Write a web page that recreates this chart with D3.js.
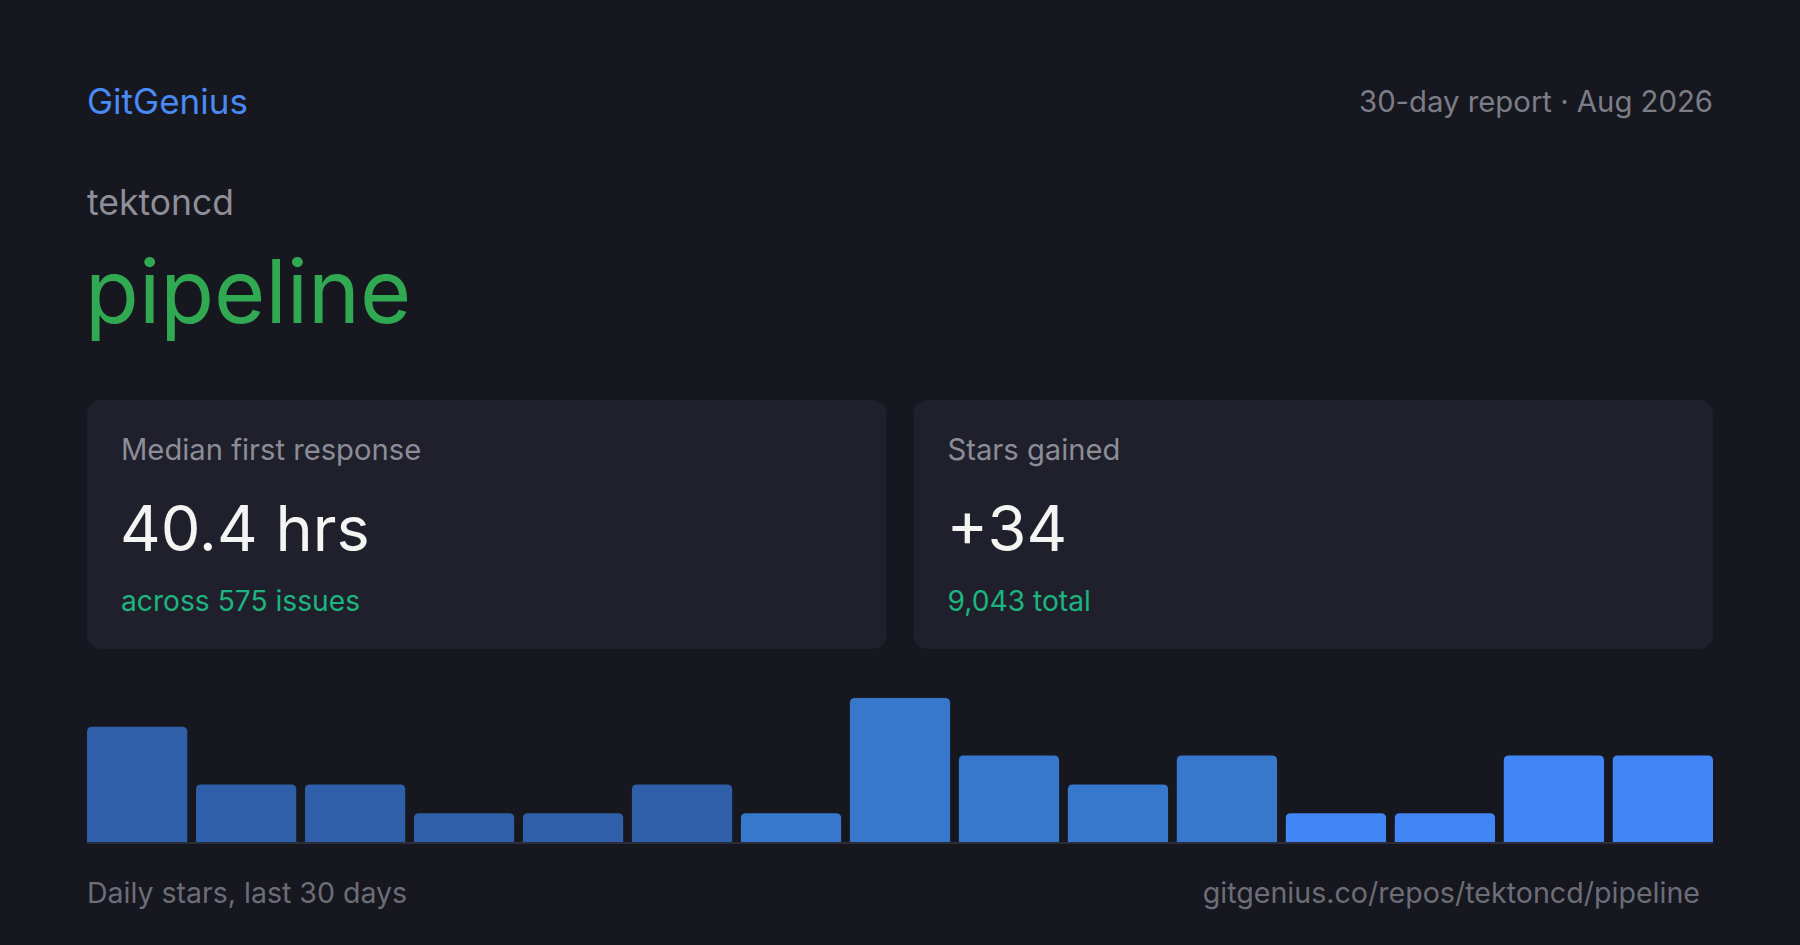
<!DOCTYPE html>
<html>
<head>
<meta charset="utf-8">
<script src="https://cdn.jsdelivr.net/npm/d3@7"></script>
<style>
  html, body { margin: 0; padding: 0; background: #16171f; }
  svg { display: block; font-family: Inter, "Noto Sans", sans-serif; }
</style>
</head>
<body>
<div id="chart"></div>
<script>
// data
const owner = "tektoncd";
const repo = "pipeline";
const reportLabel = "30-day report · Aug 2026";
const cardLabels = ["Median first response", "Stars gained"];
const cardValues = ["40.4 hrs", "+34"];
const cardNotes = ["across 575 issues", "9,043 total"];
const starBins = [4, 2, 2, 1, 1, 2, 1, 5, 3, 2, 3, 1, 1, 3, 3];

const W = 1800, H = 945;
const left = 87, right = 1713;

const svg = d3.select("#chart").append("svg")
    .attr("width", W)
    .attr("height", H);

svg.append("rect").attr("width", W).attr("height", H).attr("fill", "#16171f");

// header
svg.append("text")
    .attr("x", left).attr("y", 114)
    .attr("font-size", 35)
    .attr("fill", "#4a8af4")
    .text("GitGenius");

svg.append("text")
    .attr("x", right).attr("y", 112)
    .attr("text-anchor", "end")
    .attr("font-size", 29.3)
    .attr("fill", "#7c7d87")
    .text(reportLabel);

svg.append("text")
    .attr("x", left).attr("y", 215)
    .attr("font-size", 35.5)
    .attr("fill", "#8e8f98")
    .text(owner);

svg.append("text")
    .attr("x", left - 2).attr("y", 323)
    .attr("font-size", 88)
    .attr("fill", "#31a852")
    .text(repo);

// stat cards
const cardGap = 27;
const cardW = (right - left - cardGap) / 2;
const cards = svg.selectAll(".card")
    .data(cardLabels.map((l, i) => ({ label: l, value: cardValues[i], note: cardNotes[i] })))
    .join("g")
    .attr("class", "card")
    .attr("transform", (d, i) => `translate(${left + i * (cardW + cardGap)},400)`);

cards.append("rect")
    .attr("width", cardW).attr("height", 249)
    .attr("rx", 14)
    .attr("fill", "#1f202b");

cards.append("text")
    .attr("x", 34).attr("y", 60)
    .attr("font-size", 29.2)
    .attr("fill", "#8c8d96")
    .text(d => d.label);

cards.append("text")
    .attr("x", 33).attr("y", 151)
    .attr("font-size", 63)
    .attr("fill", "#f4f4f2")
    .text(d => d.value);

cards.append("text")
    .attr("x", 34).attr("y", 211)
    .attr("font-size", 28.2)
    .attr("fill", "#1db47f")
    .text(d => d.note);

// daily stars bars
const chartTop = 698, chartBottom = 842;
const x = d3.scaleBand()
    .domain(d3.range(starBins.length))
    .range([left, right])
    .paddingInner(0.08)
    .paddingOuter(0);
const y = d3.scaleLinear()
    .domain([0, d3.max(starBins)])
    .range([chartBottom, chartTop]);
const color = d3.scaleThreshold()
    .domain([6, 11])
    .range(["#2f5fa8", "#3778cc", "#4285f4"]);

function topRounded(x0, y0, w, h, r) {
    r = Math.min(r, h, w / 2);
    return `M${x0},${y0 + h}V${y0 + r}Q${x0},${y0} ${x0 + r},${y0}` +
        `H${x0 + w - r}Q${x0 + w},${y0} ${x0 + w},${y0 + r}V${y0 + h}Z`;
}

svg.append("g").selectAll("path")
    .data(starBins)
    .join("path")
    .attr("d", (d, i) => topRounded(x(i), y(d), x.bandwidth(), y(0) - y(d), 5))
    .attr("fill", (d, i) => color(i));

svg.append("line")
    .attr("x1", left).attr("x2", right)
    .attr("y1", chartBottom + 1).attr("y2", chartBottom + 1)
    .attr("stroke", "#2c2d3a")
    .attr("stroke-width", 2);

// footer
svg.append("text")
    .attr("x", left).attr("y", 903)
    .attr("font-size", 28.5)
    .attr("fill", "#6c6d77")
    .text("Daily stars, last 30 days");

svg.append("text")
    .attr("x", 1700).attr("y", 903)
    .attr("text-anchor", "end")
    .attr("font-size", 28.6)
    .attr("fill", "#6c6d77")
    .text(`gitgenius.co/repos/${owner}/${repo}`);
</script>
</body>
</html>
